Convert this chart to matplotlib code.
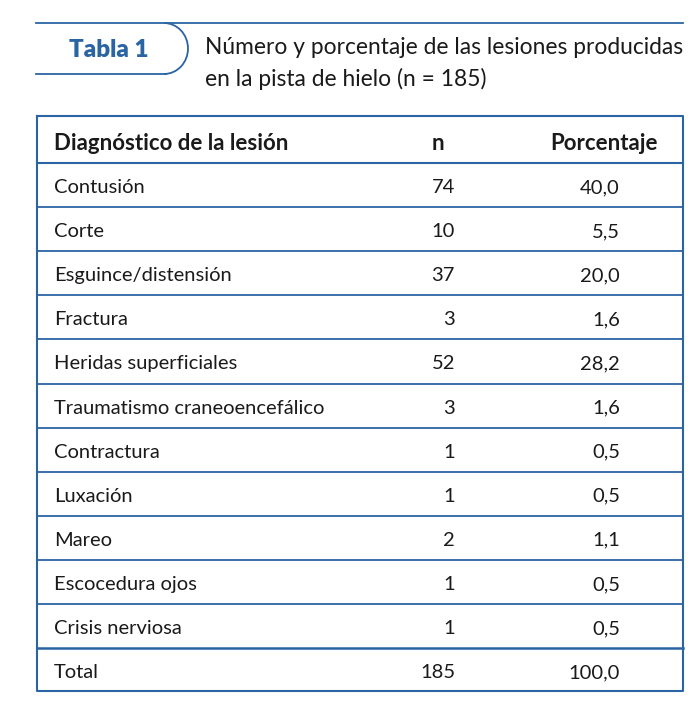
import matplotlib
matplotlib.use("Agg")
import matplotlib.pyplot as plt
from matplotlib.patches import Arc

plt.rcParams['font.family'] = ['Lato', 'DejaVu Sans']

title_tag = "Tabla 1"
title_lines = ["Número y porcentaje de las lesiones producidas",
               "en la pista de hielo (n = 185)"]
headers = ["Diagnóstico de la lesión", "n", "Porcentaje"]
diagnoses = ["Contusión", "Corte", "Esguince/distensión", "Fractura",
             "Heridas superficiales", "Traumatismo craneoencefálico",
             "Contractura", "Luxación", "Mareo", "Escocedura ojos",
             "Crisis nerviosa"]
counts = [74, 10, 37, 3, 52, 3, 1, 1, 2, 1, 1]
percents = [40.0, 5.5, 20.0, 1.6, 28.2, 1.6, 0.5, 0.5, 1.1, 0.5, 0.5]
total_label = "Total"
total_n = 185
total_pct = 100.0

BLUE = "#2b64a3"
TEXT = "#1a1a1a"

W, H = 700, 707
fig = plt.figure(figsize=(W / 100, H / 100), dpi=100)
ax = fig.add_axes([0, 0, 1, 1])
ax.set_xlim(0, W)
ax.set_ylim(H, 0)
ax.axis('off')

# Header band with tab
ax.plot([36, 683], [23, 23], color=BLUE, lw=1.3)
ax.plot([36, 166], [74, 74], color=BLUE, lw=1.3)
ax.add_patch(Arc((164, 48.5), 48, 51, theta1=-90, theta2=90, color=BLUE, lw=1.3))
ax.text(109, 50, title_tag, color=BLUE, fontsize=17.5, fontweight='heavy',
        ha='center', va='center')
ax.text(205, 48, title_lines[0], color=TEXT, fontsize=16.4, ha='left', va='center')
ax.text(205, 79, title_lines[1], color=TEXT, fontsize=16.4, ha='left', va='center')

# Table geometry
left, right = 37, 683
top, head_bot = 116, 163
row_h = 44.1
n_rows = len(diagnoses) + 1
bottom = head_bot + row_h * n_rows - 1

ax.plot([left, right, right, left, left], [top, top, bottom, bottom, top],
        color=BLUE, lw=1.5)
ax.plot([left, right], [head_bot, head_bot], color=BLUE, lw=1.5)
for i in range(1, n_rows):
    y = head_bot + row_h * i
    ax.plot([left, right], [y, y], color=BLUE, lw=1.8 if i == n_rows - 1 else 1.3)

fs = 14.5
hfs = 16
hy = (top + head_bot) / 2 + 4
ax.text(54, hy, headers[0], color=TEXT, fontsize=hfs, fontweight='bold', ha='left', va='center')
ax.text(438, hy, headers[1], color=TEXT, fontsize=hfs, fontweight='bold', ha='center', va='center')
ax.text(658, hy, headers[2], color=TEXT, fontsize=hfs, fontweight='bold', ha='right', va='center')

def fmt(p):
    return f"{p:.1f}".replace('.', ',')

labels = diagnoses + [total_label]
ns = counts + [total_n]
ps = percents + [total_pct]
for i, (lab, n, p) in enumerate(zip(labels, ns, ps)):
    yc = head_bot + row_h * (i + 0.5) + 2.5
    ax.text(54, yc, lab, color=TEXT, fontsize=fs, ha='left', va='center')
    ax.text(455, yc, str(n), color=TEXT, fontsize=fs, ha='right', va='center')
    ax.text(620, yc, fmt(p), color=TEXT, fontsize=fs, ha='right', va='center')

fig.savefig("out.png", dpi=100, facecolor='white')
